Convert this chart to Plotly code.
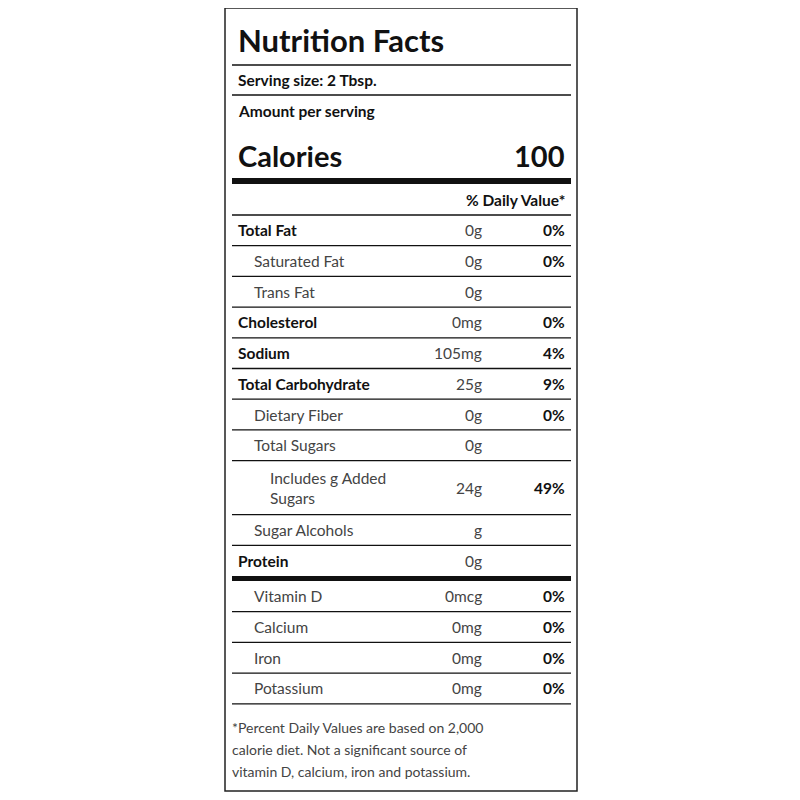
import plotly.graph_objects as go

names = ["Total Fat", "Saturated Fat", "Trans Fat", "Cholesterol", "Sodium",
         "Total Carbohydrate", "Dietary Fiber", "Total Sugars",
         "Includes g Added<br>Sugars", "Sugar Alcohols", "Protein"]
amounts = ["0g", "0g", "0g", "0mg", "105mg", "25g", "0g", "0g", "24g", "g", "0g"]
percents = ["0%", "0%", "", "0%", "4%", "9%", "0%", "", "49%", "", ""]
indent = [0, 1, 1, 0, 0, 0, 1, 1, 2, 1, 0]
bold = [1, 0, 0, 1, 1, 1, 0, 0, 0, 0, 1]
lines_per_row = [1, 1, 1, 1, 1, 1, 1, 1, 2, 1, 1]

vit_names = ["Vitamin D", "Calcium", "Iron", "Potassium"]
vit_amounts = ["0mcg", "0mg", "0mg", "0mg"]
vit_percents = ["0%", "0%", "0%", "0%"]

footnote_lines = ["*Percent Daily Values are based on 2,000",
                  "calorie diet. Not a significant source of",
                  "vitamin D, calcium, iron and potassium."]

FONT = "Lato"
L, R = 232, 571
X_AMT, X_PCT = 484, 567
ROW = 30.7

fig = go.Figure()
shapes = []
ann = []

def text(x, y, s, size=15.5, b=False, anchor="left", color="#111"):
    ann.append(dict(x=x, y=y, xref="x", yref="y", text=f"<b>{s}</b>" if b else s,
                    showarrow=False, xanchor=anchor, yanchor="middle", align="left",
                    font=dict(family=FONT, size=size, color=color)))

def hline(y, w=1.3):
    shapes.append(dict(type="line", x0=L, x1=R, y0=y, y1=y, xref="x", yref="y",
                       line=dict(color="#111", width=w)))

# outer box
shapes.append(dict(type="rect", x0=225, x1=577, y0=8, y1=791, xref="x", yref="y",
                   line=dict(color="#222", width=1.5)))

text(236, 40, "Nutrition Facts", 31, True)
hline(65)
text(236, 80, "Serving size: 2 Tbsp.", 15.5, True)
hline(95)
text(236, 111, "Amount per serving", 15.5, True)
text(236, 155, "Calories", 29, True)
text(567, 155, "100", 29, True, "right")
hline(181, 6)
text(567, 200, "% Daily Value*", 15.5, True, "right")
hline(215)

y = 215
for n, a, p, ind, b, nl in zip(names, amounts, percents, indent, bold, lines_per_row):
    h = ROW if nl == 1 else 54
    cy = y + h / 2
    col = "#111" if b else "#444"
    text(236 + 16 * ind, cy, n, 15.5, bool(b), color=col)
    text(X_AMT, cy, a, 15.5, False, "right", "#444")
    if p:
        text(X_PCT, cy, p, 15.5, True, "right")
    y += h
    if n != "Protein":
        hline(y)
hline(y + 2.5, 5)
y += 5
for n, a, p in zip(vit_names, vit_amounts, vit_percents):
    cy = y + ROW / 2
    text(252, cy, n, 15.5, False, color="#444")
    text(X_AMT, cy, a, 15.5, False, "right", "#444")
    text(X_PCT, cy, p, 15.5, True, "right")
    y += ROW
    hline(y)

for i, s in enumerate(footnote_lines):
    text(230, 727 + 22 * i, s, 14, False, color="#444")

fig.update_layout(
    width=800, height=800, margin=dict(l=0, r=0, t=0, b=0),
    plot_bgcolor="white", paper_bgcolor="white",
    xaxis=dict(range=[8, 808], visible=False),
    yaxis=dict(range=[808, 8], visible=False),
    shapes=shapes, annotations=ann, showlegend=False,
)
fig.write_html("out.html")
